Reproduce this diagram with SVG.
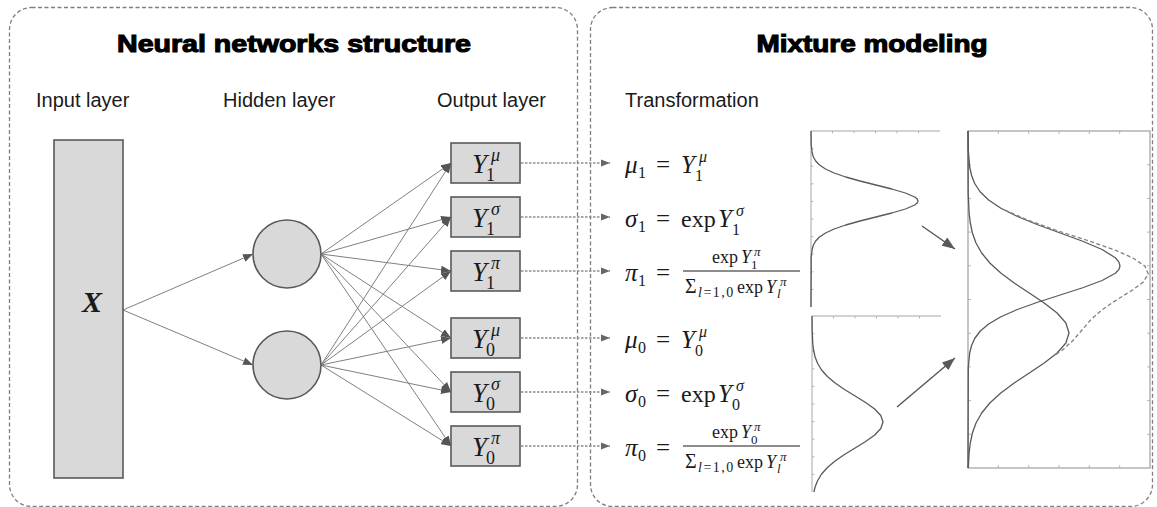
<svg xmlns="http://www.w3.org/2000/svg" width="1157" height="507" viewBox="0 0 1157 507">
  <style>
    .panel{fill:none;stroke:#7f7f7f;stroke-width:1.3;stroke-dasharray:4 2.5}
    .title{font-family:"Liberation Sans",Arial,sans-serif;font-weight:bold;font-size:24px;fill:#000;stroke:#000;stroke-width:1.1;text-anchor:middle}
    .lbl{font-family:"Liberation Sans",Arial,sans-serif;font-size:20px;fill:#1a1a1a}
    .box{fill:#d9d9d9;stroke:#595959;stroke-width:1.6}
    .m{font-family:"Liberation Serif","Times New Roman",serif;fill:#1a1a1a}
    .it{font-style:italic}
    .f30{font-size:30px}
    .f27{font-size:27px}
    .f25{font-size:25px}
    .f24{font-size:24px}
    .f20{font-size:20px}
    .f18{font-size:18px}
    .f16{font-size:16px}
    .f14{font-size:14px}
    .f13{font-size:13px}
    .edge{stroke:#808080;stroke-width:1;fill:none}
    .dash{stroke:#8c8c8c;stroke-width:1.4;stroke-dasharray:2.5 1.5;fill:none}
    .parrow{stroke:#595959;stroke-width:1.5;fill:none}
    .frac{stroke:#1a1a1a;stroke-width:1.2}
    .axis{stroke:#a6a6a6;stroke-width:1;fill:none}
    .tick{stroke:#a6a6a6;stroke-width:0.8;fill:none}
    .curve{stroke:#595959;stroke-width:1.3;fill:none;stroke-linejoin:round}
    .sum{stroke:#808080;stroke-width:1.3;fill:none;stroke-dasharray:4 2.5}
  </style>
  <defs>
    <marker id="ah" markerUnits="userSpaceOnUse" markerWidth="10" markerHeight="8" refX="10" refY="4" orient="auto">
      <path d="M0,0 L10,4 L0,8 z" fill="#555"/>
    </marker>
    <marker id="ahd" markerUnits="userSpaceOnUse" markerWidth="9" markerHeight="8" refX="9" refY="4" orient="auto">
      <path d="M0,0.5 L9,4 L0,7.5 z" fill="#666"/>
    </marker>
    <marker id="ahb" markerUnits="userSpaceOnUse" markerWidth="13" markerHeight="10" refX="13" refY="5" orient="auto">
      <path d="M0,0 L13,5 L0,10 z" fill="#595959"/>
    </marker>
    <!-- top and left axes of a small density plot -->
    <g id="miniAxes">
      <path class="axis" d="M940,131 H811 V307"/>
      <path class="tick" d="M832.5,131v2.5M854,131v2.5M875.5,131v2.5M897,131v2.5M918.5,131v2.5
        M811,148.6h2.5M811,166.2h2.5M811,183.8h2.5M811,201.4h2.5M811,219h2.5M811,236.6h2.5M811,254.2h2.5M811,271.8h2.5M811,289.4h2.5"/>
    </g>
  </defs>

  <rect width="1157" height="507" fill="#fff"/>

  <!-- panels -->
  <g id="panel-network">
    <rect class="panel" x="9.5" y="7.5" width="568" height="499" rx="22"/>
    <text class="title" x="294" y="52" textLength="354" lengthAdjust="spacingAndGlyphs">Neural networks structure</text>
    <text class="lbl" x="36" y="107">Input layer</text>
    <text class="lbl" x="223" y="107">Hidden layer</text>
    <text class="lbl" x="437" y="107">Output layer</text>
  </g>
  <g id="panel-mixture">
    <rect class="panel" x="590.5" y="7.5" width="562" height="499" rx="22"/>
    <text class="title" x="872" y="52" textLength="231" lengthAdjust="spacingAndGlyphs">Mixture modeling</text>
    <text class="lbl" x="625" y="107">Transformation</text>
  </g>

  <!-- connectors -->
  <g id="connectors">
    <line class="edge" x1="123" y1="310" x2="253" y2="254" marker-end="url(#ah)"/>
    <line class="edge" x1="123" y1="310" x2="253" y2="365" marker-end="url(#ah)"/>

    <line class="edge" x1="321" y1="254" x2="451" y2="163" marker-end="url(#ah)"/>
    <line class="edge" x1="321" y1="254" x2="451" y2="217" marker-end="url(#ah)"/>
    <line class="edge" x1="321" y1="254" x2="451" y2="271" marker-end="url(#ah)"/>
    <line class="edge" x1="321" y1="254" x2="451" y2="338" marker-end="url(#ah)"/>
    <line class="edge" x1="321" y1="254" x2="451" y2="392" marker-end="url(#ah)"/>
    <line class="edge" x1="321" y1="254" x2="451" y2="446" marker-end="url(#ah)"/>

    <line class="edge" x1="321" y1="365" x2="451" y2="163" marker-end="url(#ah)"/>
    <line class="edge" x1="321" y1="365" x2="451" y2="217" marker-end="url(#ah)"/>
    <line class="edge" x1="321" y1="365" x2="451" y2="271" marker-end="url(#ah)"/>
    <line class="edge" x1="321" y1="365" x2="451" y2="338" marker-end="url(#ah)"/>
    <line class="edge" x1="321" y1="365" x2="451" y2="392" marker-end="url(#ah)"/>
    <line class="edge" x1="321" y1="365" x2="451" y2="446" marker-end="url(#ah)"/>

    <line class="dash" x1="521" y1="163" x2="610" y2="163" marker-end="url(#ahd)"/>
    <line class="dash" x1="521" y1="217" x2="610" y2="217" marker-end="url(#ahd)"/>
    <line class="dash" x1="521" y1="271" x2="610" y2="271" marker-end="url(#ahd)"/>
    <line class="dash" x1="521" y1="338" x2="610" y2="338" marker-end="url(#ahd)"/>
    <line class="dash" x1="521" y1="392" x2="610" y2="392" marker-end="url(#ahd)"/>
    <line class="dash" x1="521" y1="446" x2="610" y2="446" marker-end="url(#ahd)"/>

    <line class="parrow" x1="922" y1="226" x2="955" y2="249" marker-end="url(#ahb)"/>
    <line class="parrow" x1="897" y1="407" x2="955" y2="358" marker-end="url(#ahb)"/>
  </g>

  <!-- input layer -->
  <g id="node-x">
    <rect class="box" x="54" y="140" width="69" height="338"/>
    <text class="m f30" x="92" y="312" text-anchor="middle" font-weight="bold" font-style="italic">X</text>
  </g>

  <!-- hidden layer -->
  <g id="node-h1"><circle class="box" cx="287" cy="254" r="34"/></g>
  <g id="node-h0"><circle class="box" cx="287" cy="365" r="34"/></g>

  <!-- output layer -->
  <g id="node-y1-mu">
    <rect class="box" x="451" y="143" width="69" height="40"/>
    <text class="m it f27" x="472" y="173">Y</text>
    <text class="m it f18" x="491" y="161">μ</text>
    <text class="m f18" x="486" y="181">1</text>
  </g>
  <g id="node-y1-sigma">
    <rect class="box" x="451" y="197" width="69" height="40"/>
    <text class="m it f27" x="472" y="227">Y</text>
    <text class="m it f18" x="491" y="215">σ</text>
    <text class="m f18" x="486" y="235">1</text>
  </g>
  <g id="node-y1-pi">
    <rect class="box" x="451" y="251" width="69" height="40"/>
    <text class="m it f27" x="472" y="281">Y</text>
    <text class="m it f18" x="491" y="269">π</text>
    <text class="m f18" x="486" y="289">1</text>
  </g>
  <g id="node-y0-mu">
    <rect class="box" x="451" y="318" width="69" height="40"/>
    <text class="m it f27" x="472" y="348">Y</text>
    <text class="m it f18" x="491" y="336">μ</text>
    <text class="m f18" x="486" y="356">0</text>
  </g>
  <g id="node-y0-sigma">
    <rect class="box" x="451" y="372" width="69" height="40"/>
    <text class="m it f27" x="472" y="402">Y</text>
    <text class="m it f18" x="491" y="390">σ</text>
    <text class="m f18" x="486" y="410">0</text>
  </g>
  <g id="node-y0-pi">
    <rect class="box" x="451" y="426" width="69" height="40"/>
    <text class="m it f27" x="472" y="456">Y</text>
    <text class="m it f18" x="491" y="444">π</text>
    <text class="m f18" x="486" y="464">0</text>
  </g>

  <!-- transformation formulas -->
  <g id="formula-mu1">
    <text class="m it f25" x="625" y="173">μ</text>
    <text class="m f16" x="638" y="178">1</text>
    <text class="m f25" x="656" y="173">=</text>
    <text class="m it f25" x="681" y="173">Y</text>
    <text class="m it f16" x="699" y="162">μ</text>
    <text class="m f16" x="695" y="181">1</text>
  </g>
  <g id="formula-sigma1">
    <text class="m it f25" x="625" y="227">σ</text>
    <text class="m f16" x="638" y="232">1</text>
    <text class="m f25" x="656" y="227">=</text>
    <text class="m f24" x="681" y="227">exp</text>
    <text class="m it f25" x="718" y="227">Y</text>
    <text class="m it f16" x="736" y="216">σ</text>
    <text class="m f16" x="732" y="235">1</text>
  </g>
  <g id="formula-pi1">
    <text class="m it f25" x="625" y="281">π</text>
    <text class="m f16" x="638" y="286">1</text>
    <text class="m f25" x="656" y="281">=</text>
    <text class="m f18" x="712" y="263">exp</text>
    <text class="m it f18" x="741" y="263">Y</text>
    <text class="m it f13" x="754" y="256">π</text>
    <text class="m f13" x="751" y="269">1</text>
    <line class="frac" x1="683" y1="271" x2="800" y2="271"/>
    <text class="m f20" x="685" y="293">Σ</text>
    <text class="m f14" x="698" y="297" letter-spacing="1.5"><tspan font-style="italic">l</tspan>=1,0</text>
    <text class="m f18" x="737" y="293">exp</text>
    <text class="m it f18" x="766" y="293">Y</text>
    <text class="m it f13" x="780" y="286">π</text>
    <text class="m it f13" x="777" y="298">l</text>
  </g>
  <g id="formula-mu0">
    <text class="m it f25" x="625" y="348">μ</text>
    <text class="m f16" x="638" y="353">0</text>
    <text class="m f25" x="656" y="348">=</text>
    <text class="m it f25" x="681" y="348">Y</text>
    <text class="m it f16" x="699" y="337">μ</text>
    <text class="m f16" x="695" y="356">0</text>
  </g>
  <g id="formula-sigma0">
    <text class="m it f25" x="625" y="402">σ</text>
    <text class="m f16" x="638" y="407">0</text>
    <text class="m f25" x="656" y="402">=</text>
    <text class="m f24" x="681" y="402">exp</text>
    <text class="m it f25" x="718" y="402">Y</text>
    <text class="m it f16" x="736" y="391">σ</text>
    <text class="m f16" x="732" y="410">0</text>
  </g>
  <g id="formula-pi0">
    <text class="m it f25" x="625" y="456">π</text>
    <text class="m f16" x="638" y="461">0</text>
    <text class="m f25" x="656" y="456">=</text>
    <text class="m f18" x="712" y="438">exp</text>
    <text class="m it f18" x="741" y="438">Y</text>
    <text class="m it f13" x="754" y="431">π</text>
    <text class="m f13" x="751" y="444">0</text>
    <line class="frac" x1="683" y1="446" x2="800" y2="446"/>
    <text class="m f20" x="685" y="468">Σ</text>
    <text class="m f14" x="698" y="472" letter-spacing="1.5"><tspan font-style="italic">l</tspan>=1,0</text>
    <text class="m f18" x="737" y="468">exp</text>
    <text class="m it f18" x="766" y="468">Y</text>
    <text class="m it f13" x="780" y="461">π</text>
    <text class="m it f13" x="777" y="473">l</text>
  </g>

  <!-- component 1 density -->
  <g id="plot-comp1">
    <use href="#miniAxes"/>
    <path class="curve" d="M811,131 L811.2,145 L812.2,153 L813.4,157 L815.7,161 L819.5,165 L825.5,169 L834.1,173 L845.7,177 L860,181 L875.9,185 L891.8,189 L905.4,193 L914.7,197 L917.2,199 L918,201 L917.2,203 L914.7,205 L905.4,209 L891.8,213 L875.9,217 L860,221 L845.7,225 L834.1,229 L825.5,233 L819.5,237 L815.7,241 L813.4,245 L812.2,249 L811.2,257 L811,307"/>
  </g>

  <!-- component 0 density -->
  <g id="plot-comp0">
    <use href="#miniAxes" transform="translate(1,185)"/>
    <path class="curve" d="M812,316 L812.2,331 L812.8,344 L813.6,350.5 L815.1,357 L817.7,363.5 L821.6,370 L827.4,376.5 L835.1,383 L844.5,389.5 L855.1,396 L865.6,402.5 L874.7,409 L880.8,415.5 L883,422 L880.8,428.5 L874.7,435 L865.6,441.5 L855.1,448 L844.5,454.5 L835.1,461 L827.4,467.5 L821.6,474 L817.7,480.5 L815.1,487 L813.9,492"/>
  </g>

  <!-- mixture density -->
  <g id="plot-mixture">
    <rect x="968" y="131" width="182" height="337" fill="none" stroke="#8c8c8c" stroke-width="1"/>
    <path class="tick" d="M998.3,131v3M1028.7,131v3M1059,131v3M1089.3,131v3M1119.7,131v3
      M998.3,468v-3M1028.7,468v-3M1059,468v-3M1089.3,468v-3M1119.7,468v-3
      M968,164.7h3M968,198.4h3M968,232.1h3M968,265.8h3M968,299.5h3M968,333.2h3M968,366.9h3M968,400.6h3M968,434.3h3
      M1150,164.7h-3M1150,198.4h-3M1150,232.1h-3M1150,265.8h-3M1150,299.5h-3M1150,333.2h-3M1150,366.9h-3M1150,400.6h-3M1150,434.3h-3"/>
    <path class="curve" d="M968,131 L968.3,150.5 L969.7,167 L971.5,175.25 L974.7,183.5 L980.1,191.75 L988.6,200 L1000.9,208.25 L1017.4,216.5 L1037.6,224.75 L1060.2,233 L1082.7,241.25 L1102.1,249.5 L1115.3,257.75 L1118.8,261.9 L1120,266 L1118.8,269.6 L1115.3,273.25 L1102.1,280.5 L1082.7,287.75 L1060.2,295 L1037.6,302.25 L1017.4,309.5 L1000.9,316.75 L988.6,324 L980.1,331.25 L974.7,338.5 L971.5,345.75 L969.7,353 L968.3,367.5 L968,468"/>
    <path class="curve" d="M968,131 L968.2,193 L969.1,213 L970.3,223 L972.4,233 L976,243 L981.7,253 L989.8,263 L1000.8,273 L1014.2,283 L1029.3,293 L1044.2,303 L1057.1,313 L1065.9,323 L1069,333 L1065.9,343 L1057.1,353 L1044.2,363 L1029.3,373 L1014.2,383 L1000.8,393 L989.8,403 L981.7,413 L976,423 L972.4,433 L970.3,443 L969.1,453 L968.3,468"/>
    <path class="sum" d="M1004.9,210 L1027.4,220 L1055.5,230 L1086.2,240 L1114.8,250 L1133,258 L1144.8,266 L1148.3,274 L1143.3,282 L1132.6,290 L1116.4,300 L1101.7,310 L1090.6,320 L1082,330 L1073.4,340 L1062.6,350 L1055,355"/>
  </g>
</svg>
